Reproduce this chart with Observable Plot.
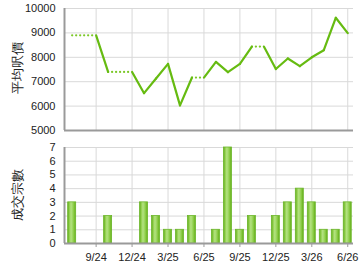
<!DOCTYPE html>
<html><head><meta charset="utf-8">
<script src="https://cdn.jsdelivr.net/npm/d3@7"></script>
<script src="https://cdn.jsdelivr.net/npm/@observablehq/plot@0.6"></script>
<style>
html,body{margin:0;padding:0;background:#fff;}
#wrap{position:relative;width:360px;height:270px;overflow:hidden;background:#fff;}
#topPanel,#botPanel{position:absolute;left:0;}
#topPanel{top:0px}
#botPanel{top:135px}
</style></head>
<body><div id="wrap"><div id="topPanel"></div><div id="botPanel"></div></div>
<script>
const months = ["7/24","8/24","9/24","10/24","11/24","12/24","1/25","2/25","3/25","4/25","5/25","6/25","7/25","8/25","9/25","10/25","11/25","12/25","1/26","2/26","3/26","4/26","5/26","6/26"];
const avgPrice = [8900,null,null,7400,null,null,6530,7130,7730,6030,7170,null,7810,7390,7730,8440,null,7520,7950,7640,8000,8290,9620,8990];
const deals = [3,0,0,2,0,0,3,2,1,1,2,0,1,7,1,2,0,2,3,4,3,1,1,3];
const priceTicks = [5000,6000,7000,8000,9000,10000];
const dealTicks = [0,1,2,3,4,5,6,7];
const quarterIdx = [2,5,8,11,14,17,20,23];
const priceTitle = "平均呎價";
const dealTitle = "成交宗數";

const FONT = "'Liberation Sans', Arial, sans-serif";
const xDomain = [-0.64, 23.48];
const GRID = "#d9d9d9";
const AXIS = "#9a9a9a";

// build line segments: solid where a month has a price, dotted (carried flat) where not
const segs = [];
let carry = avgPrice[0];
for (let i = 1; i < avgPrice.length; i++) {
  const prev = carry;
  const has = avgPrice[i] != null;
  if (has) carry = avgPrice[i];
  segs.push({x1: i - 1, y1: prev, x2: i, y2: carry, solid: has});
}
const dealData = deals.map((v, i) => ({k: i, v})).filter(d => d.v > 0);

const common = {
  width: 360, height: 135, marginLeft: 64, marginRight: 7,
  style: {fontFamily: FONT, fontSize: "11px", color: "#222", background: "transparent"}
};
const fmt = d3.format("d");

const topChart = Plot.plot({
  ...common, marginTop: 8, marginBottom: 5,
  x: {domain: xDomain, axis: null},
  y: {domain: [5000, 10000], axis: null},
  marks: [
    Plot.gridY(priceTicks, {stroke: GRID, strokeOpacity: 1}),
    Plot.gridX(quarterIdx, {stroke: GRID, strokeOpacity: 1}),
    Plot.axisY(priceTicks, {tickSize: 0, tickPadding: 9, tickFormat: fmt, label: null, fill: "#222"}),
    Plot.ruleX([xDomain[0]], {stroke: AXIS, strokeWidth: 2}),
    Plot.ruleY([5000], {stroke: AXIS, strokeWidth: 2}),
    Plot.text([priceTitle], {frameAnchor: "left", textAnchor: "middle", dx: -47, dy: -2, rotate: -90, fontSize: 13, fill: "#222"}),
    Plot.link(segs.filter(s => !s.solid), {x1: "x1", y1: "y1", x2: "x2", y2: "y2",
      stroke: "#7cc828", strokeWidth: 2.3, strokeDasharray: "0 4", strokeLinecap: "round"}),
    Plot.link(segs.filter(s => s.solid), {x1: "x1", y1: "y1", x2: "x2", y2: "y2",
      stroke: "#66bb11", strokeWidth: 2.2, strokeLinecap: "round"})
  ]
});
document.getElementById("topPanel").appendChild(topChart);

const botChart = Plot.plot({
  ...common, marginTop: 12, marginBottom: 27,
  x: {domain: xDomain, axis: null},
  y: {domain: [0, 7], axis: null},
  marks: [
    Plot.gridY(dealTicks, {stroke: GRID, strokeOpacity: 1}),
    Plot.gridX(quarterIdx, {stroke: GRID, strokeOpacity: 1}),
    Plot.rectY(dealData, {x1: d => d.k - 0.5, x2: d => d.k + 0.5, y: "v", insetLeft: 2, insetRight: 2,
      fill: "url(#barGrad)", stroke: "#6cb72a", strokeWidth: 0.8}),
    Plot.axisY(dealTicks, {tickSize: 0, tickPadding: 9, tickFormat: fmt, label: null, fill: "#222"}),
    Plot.axisX(quarterIdx, {tickFormat: i => months[i], tickSize: 4, tickPadding: 6, stroke: AXIS, label: null, fill: "#222"}),
    Plot.ruleX([xDomain[0]], {stroke: AXIS, strokeWidth: 2}),
    Plot.ruleY([0], {stroke: AXIS, strokeWidth: 2}),
    Plot.text([dealTitle], {frameAnchor: "left", textAnchor: "middle", dx: -47, dy: -1, rotate: -90, fontSize: 13, fill: "#222"})
  ]
});
const defs = d3.select(botChart).insert("defs", ":first-child");
const grad = defs.append("linearGradient").attr("id", "barGrad").attr("x1", "0").attr("x2", "1").attr("y1", "0").attr("y2", "0");
[["0%", "#5fa81a"], ["22%", "#92d04e"], ["42%", "#b4e282"], ["62%", "#9dd660"], ["85%", "#7cc232"], ["100%", "#5ea61a"]]
  .forEach(([o, c]) => grad.append("stop").attr("offset", o).attr("stop-color", c));
document.getElementById("botPanel").appendChild(botChart);
</script>
</body></html>
